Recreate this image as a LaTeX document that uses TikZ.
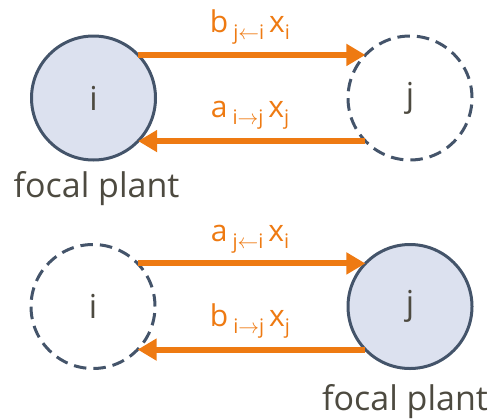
\documentclass[tikz,border=0pt]{standalone}
\usepackage{fontspec}
\setmainfont{Open Sans}
\usetikzlibrary{arrows.meta}
\definecolor{orng}{HTML}{EE7A12}
\definecolor{cfill}{HTML}{DCE1EF}
\definecolor{cline}{HTML}{44546A}
\definecolor{txt}{HTML}{4D4A40}
\newcommand{\mysub}[1]{\raisebox{-7.5pt}{\fontsize{20}{20}\selectfont #1}}
\begin{document}
\begin{tikzpicture}[x=1pt,y=-1pt,
  plant/.style={circle,minimum size=124pt,inner sep=0pt,outer sep=0pt,line width=3pt,draw=cline,text=txt,font=\fontsize{33}{33}\selectfont},
  focal/.style={plant,fill=cfill},
  other/.style={plant,dash pattern=on 12.5pt off 7pt},
  flow/.style={draw=orng,line width=6pt,-{Triangle[length=19pt,width=21pt]}},
  lab/.style={text=orng,inner sep=0pt,anchor=base,font=\fontsize{30}{30}\selectfont},
  captxt/.style={text=txt,font=\fontsize{34}{34}\selectfont,inner sep=0pt,anchor=base}]
\useasboundingbox (0,0) rectangle (492,418);
% top panel
\node[focal] (i1) at (93.5,98) {i};
\node[other] (j1) at (410,98) {j};
\draw[flow] (i1.44) -- (j1.136);
\draw[flow] (j1.-136) -- (i1.-44);
\node[lab] (l1) at (250,32) {b\,\mysub{j$\leftarrow$i}\,x\mysub{i}};
\node[lab] (l2) at (250,117) {a\,\mysub{i$\rightarrow$j}\,x\mysub{j}};
\node[captxt] (f1) at (96.5,197) {focal plant};
% bottom panel
\node[other] (i2) at (93,306.5) {i};
\node[focal] (j2) at (410,306.5) {j};
\draw[flow] (i2.44) -- (j2.136);
\draw[flow] (j2.-136) -- (i2.-44);
\node[lab] (l3) at (250,241) {a\,\mysub{j$\leftarrow$i}\,x\mysub{i}};
\node[lab] (l4) at (250,326) {b\,\mysub{i$\rightarrow$j}\,x\mysub{j}};
\node[captxt] (f2) at (405,410) {focal plant};
\end{tikzpicture}
\end{document}
